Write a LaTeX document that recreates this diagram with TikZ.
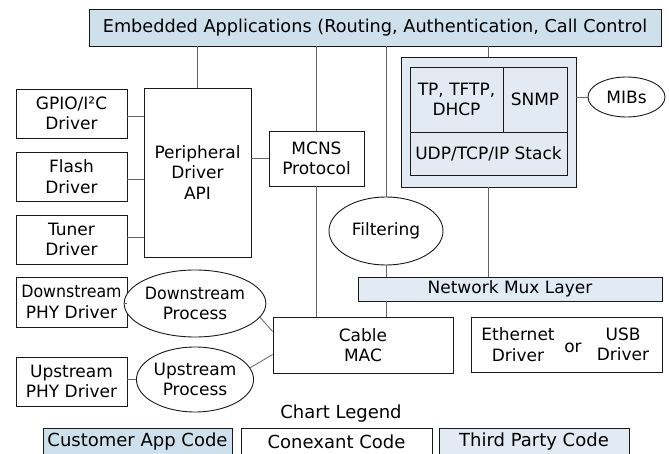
\documentclass[tikz,border=0pt]{standalone}
\usepackage{fontspec}
\usepackage{graphicx}
\setmainfont{DejaVu Sans}
\usetikzlibrary{shapes.geometric,calc}
\definecolor{custblue}{RGB}{207,224,237}
\definecolor{thirdblue}{RGB}{226,235,243}
\definecolor{connc}{RGB}{100,100,100}
\newcommand{\dfont}{\fontsize{17}{20.5}\selectfont}
\newcommand{\tfont}{\fontsize{17.7}{20.5}\selectfont}
\newcommand{\lfont}{\fontsize{18}{20.5}\selectfont}
\newcommand{\dstream}{\scalebox{0.93}[1]{Downstream}}
\tikzset{
  bx/.style={draw=black!90, line width=0.9pt, fill=white, inner sep=0pt, align=center, font=\dfont},
  custbx/.style={bx, fill=custblue},
  thirdbx/.style={bx, fill=thirdblue},
  ell/.style={draw=black!90, line width=0.9pt, fill=white, ellipse, inner sep=0pt, align=center, font=\dfont},
  conn/.style={draw=connc, line width=0.8pt},
  lbl/.style={inner sep=0pt, align=center, font=\dfont},
}
\begin{document}
\begin{tikzpicture}[x=1pt,y=-1pt]
\useasboundingbox (0,0) rectangle (669,454);
% top
\node[custbx, font=\tfont, minimum width=572pt, minimum height=37pt] (top) at (375,27.5) {Embedded Applications (Routing, Authentication, Call Control};
% left drivers
\node[bx, minimum width=111pt, minimum height=49pt] (gpio) at (71.5,113.5) {GPIO/I²C\\Driver};
\node[bx, minimum width=111pt, minimum height=49pt] (flash) at (71.5,176.5) {Flash\\Driver};
\node[bx, minimum width=111pt, minimum height=49pt] (tuner) at (71.5,239.5) {Tuner\\Driver};
\node[bx, minimum width=107pt, minimum height=169pt] (per) at (197.5,172.5) {Peripheral\\Driver\\API};
\node[bx, minimum width=95pt, minimum height=55pt] (mcns) at (316.5,158.5) {MCNS\\Protocol};
% stack
\node[thirdbx, minimum width=175pt, minimum height=130pt] (stack) at (488.5,122) {};
\node[thirdbx, minimum width=93pt, minimum height=65pt] (tp) at (456.5,99.5) {TP, TFTP,\\DHCP};
\node[thirdbx, minimum width=64pt, minimum height=65pt] (snmp) at (535,99.5) {SNMP};
\node[thirdbx, minimum width=157pt, minimum height=43pt] (udp) at (488.5,153.5) {UDP/TCP/IP Stack};
\node[ell, minimum width=77pt, minimum height=40pt] (mibs) at (626.5,97) {MIBs};
% middle
\node[ell, minimum width=114pt, minimum height=68pt] (filt) at (386,231) {Filtering};
\node[thirdbx, minimum width=304pt, minimum height=24pt] (mux) at (510,289) {Network Mux Layer};
\node[bx, minimum width=180pt, minimum height=56pt] (cable) at (363,345) {Cable\\MAC};
\node[bx, minimum width=191pt, minimum height=55pt] (eth) at (566.5,344.5) {};
\node[lbl] (ethtxt) at (518,344.5) {Ethernet\\Driver};
\node[lbl] (ortxt) at (573,348) {or};
\node[lbl] (usbtxt) at (623,344.5) {USB\\Driver};
% PHY
\node[bx, minimum width=111pt, minimum height=50pt] (dphy) at (71.5,302) {\dstream\\PHY Driver};
\node[ell, minimum width=114pt, minimum height=67pt] (dsp) at (195,303.5) {\dstream\\Process};
\node[bx, minimum width=111pt, minimum height=49pt] (uphy) at (71.5,381.5) {Upstream\\PHY Driver};
\node[ell, minimum width=114pt, minimum height=65pt] (usp) at (195,379.5) {Upstream\\Process};
% legend
\node[lbl, font=\lfont] (legtitle) at (341,413.5) {Chart Legend};
\node[custbx, minimum width=189pt, minimum height=40pt] (lcust) at (137.5,448) {};
\node[bx, minimum width=191pt, minimum height=40pt] (lcon) at (336.5,448) {};
\node[thirdbx, minimum width=190pt, minimum height=40pt] (lthird) at (534,448) {};
\node[lbl, font=\lfont] (lcusttxt) at (137.5,442) {Customer App Code};
\node[lbl, font=\lfont] (lcontxt) at (336.5,442) {Conexant Code};
\node[lbl, font=\lfont] (lthirdtxt) at (534,442) {Third Party Code};
% connectors
\draw[conn] (per.north) -- (per.north |- top.south);
\draw[conn] (mcns.north) -- (mcns.north |- top.south);
\draw[conn] (filt.north) -- (filt.north |- top.south);
\draw[conn] (stack.north) -- (stack.north |- top.south);
\draw[conn] ([yshift=-2.5pt]gpio.east) -- ([yshift=-2.5pt]gpio.east -| per.west);
\draw[conn] ([yshift=-2.5pt]flash.east) -- ([yshift=-2.5pt]flash.east -| per.west);
\draw[conn] ([yshift=2.5pt]tuner.east) -- ([yshift=2.5pt]tuner.east -| per.west);
\draw[conn] (mcns.west) -- (mcns.west -| per.east);
\draw[conn] (mcns.south) -- (mcns.south |- cable.north);
\draw[conn] (filt.south) -- (filt.south |- mux.north);
\draw[conn] (stack.south) -- (stack.south |- mux.north);
\draw[conn] (filt.south |- mux.south) -- (filt.south |- cable.north);
\draw[conn] ($(eth.north)+(-40.5,0)$) -- ($(eth.north)+(-40.5,0)$ |- mux.south);
\draw[conn] ($(eth.north)+(52.5,0)$) -- ($(eth.north)+(52.5,0)$ |- mux.south);
\draw[conn] (mibs.west) -- (mibs.west -| stack.east);
\draw[conn] (dsp.west) -- (dsp.west -| dphy.east);
\draw[conn] (usp.west) -- (usp.west -| uphy.east);
\draw[conn] (dsp.-12) -- ($(cable.north west)+(0,15)$);
\draw[conn] (usp.12) -- ($(cable.north west)+(0,38)$);
\end{tikzpicture}
\end{document}
